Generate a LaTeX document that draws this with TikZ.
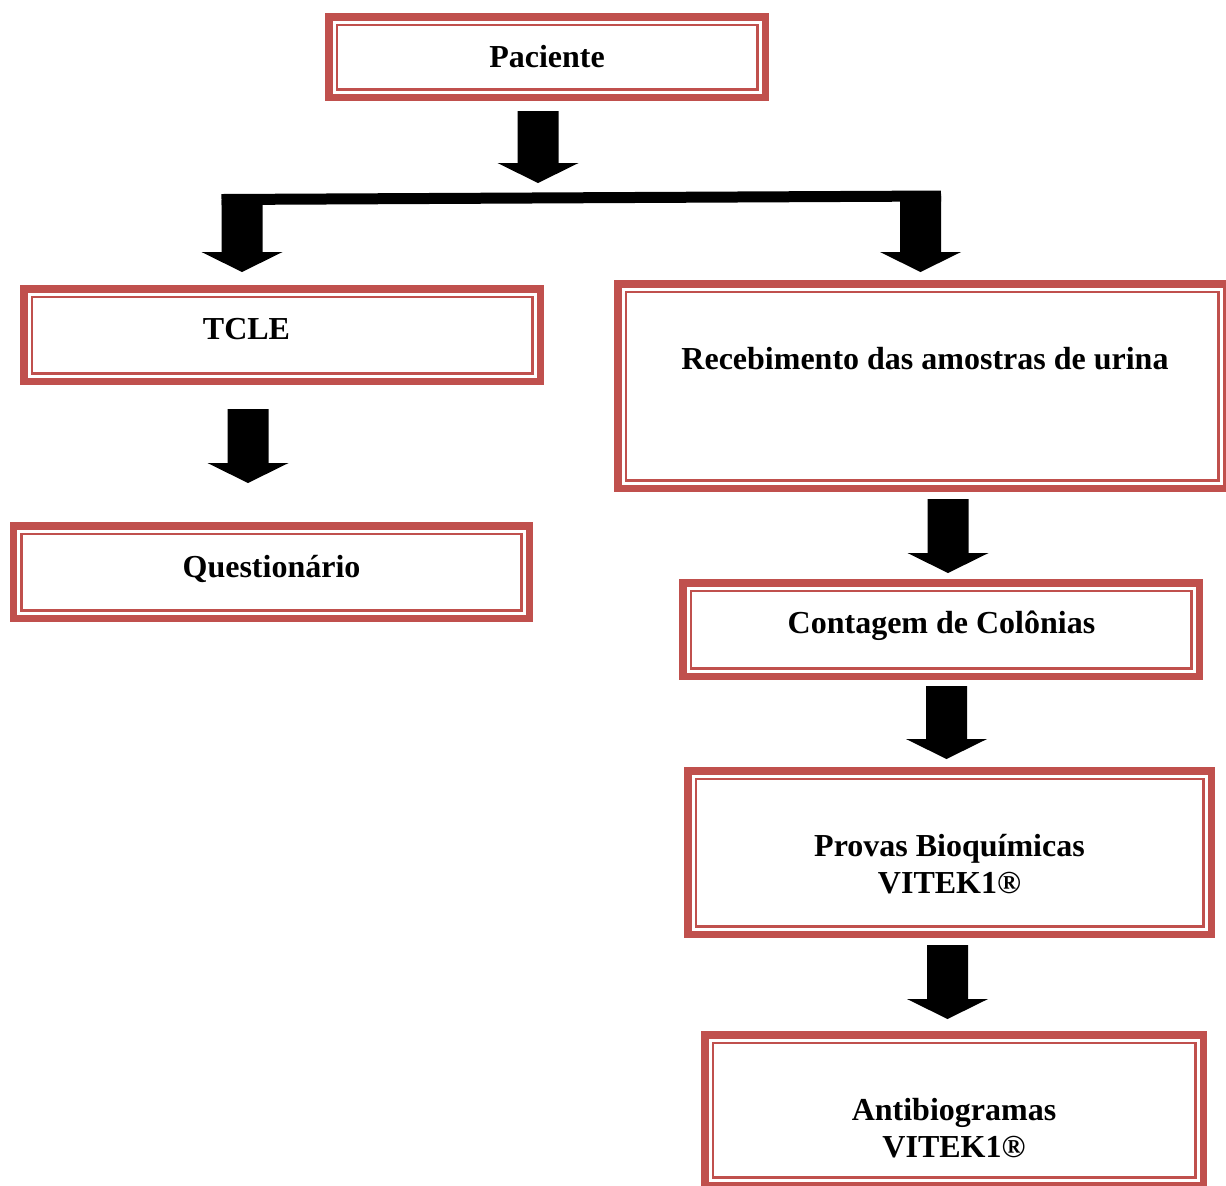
\documentclass[tikz,border=0pt]{standalone}
\usepackage{fontspec}
\setmainfont{Liberation Serif}
\usepackage{xcolor}
\usetikzlibrary{positioning,calc}
\definecolor{boxred}{RGB}{192,80,77}

\begin{document}
\begin{tikzpicture}[
    x=0.5pt, y=-0.5pt,
    box/.style={
        draw=boxred, line width=3.75pt, fill=white,
        inner sep=0pt, outer sep=0pt,
        path picture={
            \draw[boxred, line width=1.25pt]
                ($(path picture bounding box.south west)+(8,-8)$) rectangle
                ($(path picture bounding box.north east)+(-8,8)$);
        }
    },
    txt/.style={font=\fontsize{16pt}{18.5pt}\selectfont\bfseries, align=center, inner sep=0pt},
    bus/.style={line width=5.5pt},
    blockarrow/.style={
        fill=black,
        to path={
            ($(\tikztostart)+(-20.5,0)$) -- ($(\tikztotarget)+(-20.5,-20)$)
            -- ($(\tikztotarget)+(-40.5,-20)$) -- (\tikztotarget)
            -- ($(\tikztotarget)+(40.5,-20)$) -- ($(\tikztotarget)+(20.5,-20)$)
            -- ($(\tikztostart)+(20.5,0)$) -- cycle
        }
    }
]
\useasboundingbox (0,0) rectangle (1226,1185);

% caixas
\node[box, minimum width=218.25pt, minimum height=40.25pt] (pac) at (547,57) {};
\node[box, minimum width=258.25pt, minimum height=46.25pt] (tcle) at (282,335) {};
\node[box, minimum width=258pt, minimum height=46.25pt] (quest) at (271.25,572) {};
\node[box, minimum width=304.25pt, minimum height=102.25pt] (receb) at (922,386) {};
\node[box, minimum width=258.25pt, minimum height=46.75pt] (cont) at (941,629.5) {};
\node[box, minimum width=261.75pt, minimum height=81.75pt] (prov) at (949.5,852.5) {};
\node[box, minimum width=249.25pt, minimum height=75.25pt] (antib) at (954,1110) {};

% textos
\node[txt, anchor=base] (pac-t) at (547,67) {Paciente};
\node[txt, anchor=base] (tcle-t) at (246.5,339) {TCLE};
\node[txt, anchor=base] (quest-t) at (271.5,577.5) {Questionário};
\node[txt, anchor=base] (receb-t) at (925,369.5) {Recebimento das amostras de urina};
\node[txt, anchor=base] (cont-t) at (941.5,633.5) {Contagem de Colônias};
\node[txt] (prov-t) at (949.5,864) {Provas Bioquímicas\\VITEK1®};
\node[txt] (antib-t) at (954,1128.5) {Antibiogramas\\VITEK1®};

% barra que divide
\coordinate (busL) at (242,199.5);
\coordinate (busR) at (920.5,196);
\draw[bus] ($(busL)+(-20.5,0)$) -- ($(busR)+(20.5,0)$);

% pontas das setas
\coordinate (t1) at ($(pac.south)+(-9,85.75)$);
\coordinate (tL) at ($(tcle.north)+(-40,-16.75)$);
\coordinate (tR) at ($(receb.north)+(-1.5,-11.75)$);
\coordinate (t2) at ($(quest.north)+(-23.25,-42.75)$);
\coordinate (t3) at ($(cont.north)+(7,-9.75)$);
\coordinate (t4) at ($(prov.north)+(-3,-11.75)$);
\coordinate (t5) at ($(antib.north)+(-6.5,-15.75)$);

% setas
\path[blockarrow] ($(pac.south)+(-9,13.75)$) to (t1);
\path[blockarrow] (busL) to (tL);
\path[blockarrow] (busR) to (tR);
\path[blockarrow] ($(tcle.south)+(-34,27.75)$) to (t2);
\path[blockarrow] ($(receb.south)+(26,10.75)$) to (t3);
\path[blockarrow] ($(cont.south)+(5.5,9.75)$) to (t4);
\path[blockarrow] ($(prov.south)+(-2,10.75)$) to (t5);

\end{tikzpicture}
\end{document}
